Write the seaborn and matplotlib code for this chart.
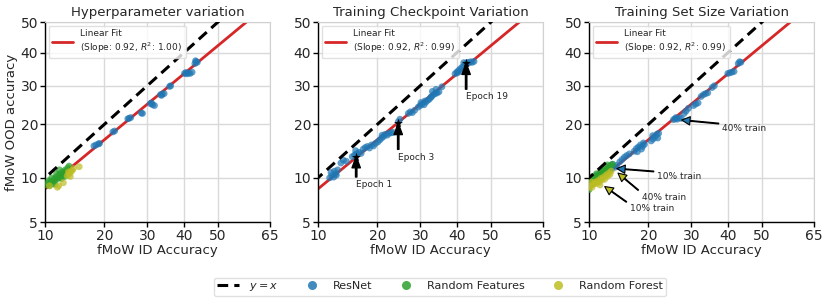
import numpy as np
import pandas as pd
import matplotlib
matplotlib.use("Agg")
import matplotlib.pyplot as plt
import seaborn as sns
from statistics import NormalDist
from matplotlib.lines import Line2D

# ---------------- data ----------------
titles = ["Hyperparameter variation", "Training Checkpoint Variation", "Training Set Size Variation"]
fit_r2 = ["1.00", "0.99", "0.99"]
fit_slope = 0.92
fit_intercept = -0.194  # in probit space
x_ticks = [10, 20, 30, 40, 50, 65]
y_ticks = [5, 10, 20, 30, 40, 50]
model_names = ["ResNet", "Random Features", "Random Forest"]

# Panel 1: hyperparameter variation
hp_resnet_id = [18.3, 18.8, 17.9, 19.0, 21.8, 22.2, 25.5, 25.9, 25.2, 28.5, 28.8, 30.8, 31.4, 31.9, 31.1,
                33.5, 34.0, 34.5, 33.8, 36.0, 36.3, 40.2, 40.8, 41.3, 41.8, 42.4, 40.6, 43.2, 43.6, 43.9, 43.4]
hp_resnet_ood = [15.6, 15.8, 15.4, 15.9, 18.3, 18.5, 21.4, 21.6, 21.3, 22.7, 22.6, 25.1, 24.8, 24.6, 25.3,
                 27.5, 27.7, 27.8, 27.3, 29.8, 30.0, 33.6, 33.5, 33.7, 33.6, 34.0, 33.9, 36.6, 37.2, 37.0, 37.5]
hp_rfeat_id = [10.2, 10.4, 10.6, 10.8, 11.0, 11.2, 11.4, 11.5, 11.7, 11.9, 12.0, 12.2, 12.4, 12.5, 12.7,
               12.9, 13.1, 13.3, 13.5, 12.0, 11.6, 10.9, 10.5, 11.3, 12.3, 12.8]
hp_rfeat_ood = [9.0, 9.3, 8.9, 9.5, 9.2, 9.8, 9.6, 10.1, 9.9, 10.4, 10.0, 10.6, 10.3, 10.9, 10.7,
                11.2, 11.0, 11.5, 11.8, 11.2, 10.6, 10.0, 9.6, 9.1, 9.9, 10.2]
hp_forest_id = [13.2, 13.5, 13.8, 14.0, 13.4, 14.2, 13.7, 15.2, 11.7, 11.9, 12.6, 10.6]
hp_forest_ood = [10.3, 10.6, 10.9, 11.1, 10.9, 11.4, 10.2, 11.7, 8.7, 8.9, 9.3, 8.9]

# Panel 2: training checkpoints
ck_resnet_id = [11.6, 11.9, 12.2, 12.5, 11.8, 12.3, 12.8, 12.6, 13.7, 13.3, 14.2,
                15.2, 15.6, 16.0, 16.4, 15.8, 16.8, 17.2, 17.6, 18.0, 18.4, 18.8, 19.2, 19.6, 20.1,
                20.5, 20.9, 21.3, 21.7, 22.1, 22.5, 23.0, 23.4, 21.0, 24.6, 25.0,
                27.0, 27.5, 28.0, 28.6, 29.5, 30.0, 30.5, 31.0, 31.5, 32.0, 32.4, 32.8, 31.2, 30.2,
                33.0, 33.5, 34.0, 34.5, 35.0, 33.2, 34.2, 35.8,
                39.5, 40.0, 40.5, 40.2, 41.0, 41.5, 42.0, 42.5, 43.0, 43.5, 44.0, 44.5, 45.0, 41.0, 42.0]
ck_resnet_ood = [10.0, 10.3, 10.1, 10.6, 10.8, 11.0, 11.2, 10.4, 12.8, 12.3, 12.6,
                 13.4, 13.7, 13.9, 14.2, 14.5, 14.0, 14.8, 15.1, 15.3, 15.0, 15.6, 15.4, 15.9, 16.2,
                 16.6, 17.0, 17.3, 17.8, 17.6, 18.0, 18.1, 18.2, 17.6, 20.6, 21.2,
                 22.6, 23.0, 22.8, 23.4, 24.2, 24.6, 25.0, 24.8, 25.5, 26.0, 26.3, 26.8, 25.8, 25.4,
                 27.0, 27.5, 27.8, 28.0, 28.3, 28.4, 29.0, 29.7,
                 33.5, 34.0, 34.5, 33.8, 35.0, 35.5, 35.8, 36.5, 37.0, 36.8, 37.2, 37.0, 37.3, 34.2, 36.9]
epoch_labels = ["Epoch 1", "Epoch 3", "Epoch 19"]
epoch_id = [15.9, 24.6, 42.7]
epoch_ood = [13.4, 20.2, 36.7]

# Panel 3: training set size
ts_resnet_id = [11.0, 11.6, 12.7, 13.0, 13.4, 13.8, 14.1, 13.2, 14.6, 15.0, 15.4, 15.8, 16.3,
                17.2, 17.6, 18.0, 18.4, 18.8, 19.2, 17.8, 18.6, 19.0,
                20.6, 21.0, 21.4, 21.8, 22.2, 20.9, 22.0, 25.6, 26.0, 26.5, 27.0, 27.5, 26.2,
                28.2, 28.7, 29.3, 30.6, 31.2, 31.8, 32.6, 33.2, 33.8, 34.4, 35.6, 36.2,
                40.0, 40.6, 41.2, 41.8, 43.0, 43.4, 43.8]
ts_resnet_ood = [10.4, 10.9, 11.4, 11.8, 12.1, 11.6, 11.9, 11.3, 12.5, 12.9, 13.3, 13.6, 13.9,
                 14.4, 14.9, 15.2, 15.6, 15.3, 15.7, 14.3, 14.8, 16.0,
                 16.4, 16.8, 17.2, 17.8, 18.0, 17.5, 17.0, 21.1, 21.3, 21.2, 21.5, 21.4, 21.6,
                 22.6, 23.2, 23.9, 24.6, 25.0, 25.3, 27.0, 27.5, 27.8, 28.0, 29.5, 30.0,
                 33.6, 33.8, 34.0, 34.2, 36.6, 37.2, 37.0]
ts_rfeat_id = [10.0, 10.1, 10.3, 10.5, 10.7, 10.9, 11.1, 11.3, 11.5, 11.7, 11.9, 12.1, 12.3, 12.5,
               12.7, 12.9, 13.1, 13.4, 10.4, 11.0, 11.8, 12.6]
ts_rfeat_ood = [8.4, 9.3, 9.6, 9.2, 9.9, 10.2, 9.8, 10.4, 10.7, 10.3, 11.0, 10.8, 11.3, 11.1,
                11.6, 11.4, 11.9, 12.1, 10.0, 10.6, 11.3, 12.0]
ts_forest_id = [10.0, 10.2, 10.4, 10.6, 10.8, 11.0, 11.2, 11.4, 11.6, 11.8, 12.0, 12.2, 12.4, 12.6,
                12.8, 13.0, 13.2, 10.3, 11.5]
ts_forest_ood = [8.6, 8.9, 8.7, 9.1, 9.4, 9.2, 9.6, 9.4, 9.9, 9.7, 10.1, 9.8, 10.4, 10.2,
                 10.7, 10.5, 11.0, 9.4, 9.0]
ts_notes = ["40% train", "10% train", "40% train", "10% train"]
ts_note_model = ["ResNet", "ResNet", "Random Forest", "Random Forest"]
ts_note_id = [27.6, 14.1, 14.3, 12.2]
ts_note_ood = [21.0, 11.4, 10.7, 8.8]
ts_note_offset = [(29, -6), (29, -5.5), (17, -17.5), (18, -16)]
epoch_offset = [(0, -17), (0, -21), (0, -21)]

# ---------------- probit scale ----------------
_nd = NormalDist()
_ppf = np.vectorize(_nd.inv_cdf, otypes=[float])
_cdf = np.vectorize(_nd.cdf, otypes=[float])


def probit(v):
    v = np.asarray(v, dtype=float)
    return _ppf(np.clip(v / 100.0, 1e-7, 1 - 1e-7))


def inv_probit(z):
    return _cdf(np.asarray(z, dtype=float)) * 100.0


palette = {"ResNet": "#1f77b4", "Random Features": "#2ca02c", "Random Forest": "#bcbd22"}

sns.set_style("whitegrid", {"axes.edgecolor": "0.82", "grid.color": "0.85",
                            "xtick.bottom": True, "ytick.left": True})
plt.rcParams["font.family"] = ["DejaVu Sans"]

fig = plt.figure(figsize=(8.3, 3.04), dpi=100)
W, H = 830.0, 304.0
lefts = [45, 318, 589]
axes = [fig.add_axes([l / W, 1 - 222 / H, 225 / W, 200 / H]) for l in lefts]


def frame(ids, oods, name):
    return pd.DataFrame({"id": ids, "ood": oods, "model": name})


panels = [
    pd.concat([frame(hp_resnet_id, hp_resnet_ood, "ResNet"),
               frame(hp_rfeat_id, hp_rfeat_ood, "Random Features"),
               frame(hp_forest_id, hp_forest_ood, "Random Forest")], ignore_index=True),
    pd.concat([frame(ck_resnet_id, ck_resnet_ood, "ResNet")], ignore_index=True),
    pd.concat([frame(ts_resnet_id, ts_resnet_ood, "ResNet"),
               frame(ts_rfeat_id, ts_rfeat_ood, "Random Features"),
               frame(ts_forest_id, ts_forest_ood, "Random Forest")], ignore_index=True),
]

dash = (0, (3.5, 2.0))
x_end = np.array([5.0, 75.0])
for i, ax in enumerate(axes):
    df = panels[i]
    sns.scatterplot(data=df, x="id", y="ood", hue="model", palette=palette, ax=ax,
                    s=24, alpha=0.7, linewidth=0, legend=False, zorder=3)
    ax.set_xscale("function", functions=(probit, inv_probit))
    ax.set_yscale("function", functions=(probit, inv_probit))
    # linear fit (straight in probit space)
    y_fit = inv_probit(fit_slope * probit(x_end) + fit_intercept)
    ax.plot(x_end, y_fit, color="#d62728", lw=2.0, zorder=2,
            label=f"Linear Fit\n(Slope: {fit_slope:.2f}, $R^2$: {fit_r2[i]})")
    ax.plot([1, 99], [1, 99], color="black", ls=dash, lw=2.2, zorder=4)
    ax.set_xlim(10, 65)
    ax.set_ylim(5, 50)
    ax.set_xticks(x_ticks)
    ax.set_xticklabels([str(t) for t in x_ticks])
    ax.set_yticks(y_ticks)
    ax.set_yticklabels([str(t) for t in y_ticks])
    ax.minorticks_off()
    ax.tick_params(axis="both", labelsize=10, length=3.5, width=1, color="black", pad=1.5)
    for s in ["left", "bottom"]:
        ax.spines[s].set_color("black")
        ax.spines[s].set_linewidth(1.0)
    ax.set_title(titles[i], fontsize=9.5, pad=4)
    ax.set_xlabel("fMoW ID Accuracy", fontsize=9.5, labelpad=1)
    ax.set_ylabel("fMoW OOD accuracy" if i == 0 else "", fontsize=9.5, labelpad=2)
    ax.legend(loc="upper left", fontsize=6.5, handlelength=2.3, frameon=True,
              borderaxespad=0.4, edgecolor="0.85")
    ax.grid(True, color="0.85", lw=1)

# epochs
ax = axes[1]
sns.scatterplot(x=epoch_id, y=epoch_ood, marker="*", color="black", s=45, linewidth=0,
                ax=ax, zorder=5, legend=False)
for lab, xv, yv, off in zip(epoch_labels, epoch_id, epoch_ood, epoch_offset):
    ax.annotate(lab, xy=(xv, yv), xytext=off, textcoords="offset points", ha="left", va="top",
                fontsize=6.5, arrowprops=dict(facecolor="black", edgecolor="black", width=1.0,
                                              headwidth=6, headlength=8, shrink=0.0))

# training-set notes
ax = axes[2]
for lab, m, xv, yv, off in zip(ts_notes, ts_note_model, ts_note_id, ts_note_ood, ts_note_offset):
    ax.annotate(lab, xy=(xv, yv), xytext=off, textcoords="offset points", ha="left", va="center",
                fontsize=6.5, arrowprops=dict(facecolor=palette[m], edgecolor="black", lw=0.8,
                                              width=0.6, headwidth=6, headlength=6, shrink=0.0))

# figure legend
handles = [Line2D([], [], color="black", ls=dash, lw=2.2, label="$y = x$")]
for m in model_names:
    handles.append(Line2D([], [], marker="o", ls="none", markersize=6.5, alpha=0.85,
                          markerfacecolor=palette[m], markeredgewidth=0, label=m))
fig.legend(handles=handles, loc="center", bbox_to_anchor=(440 / W, 1 - 287 / H), ncol=4,
           fontsize=8, frameon=True, edgecolor="0.85", handlelength=2.0, handletextpad=0.9,
           columnspacing=2.0, borderpad=0.3)

fig.savefig("out.png", dpi=100)
